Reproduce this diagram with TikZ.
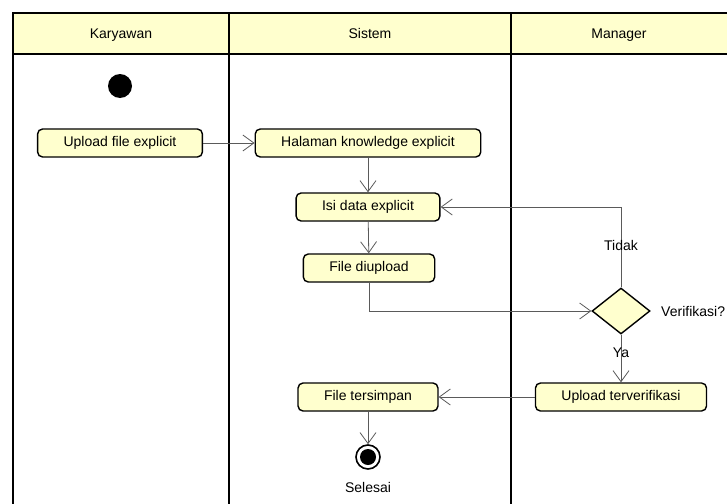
\documentclass[tikz,border=0pt]{standalone}
\usepackage{fontspec}
\setmainfont{Liberation Sans}
\usetikzlibrary{arrows.meta,shapes.geometric}
\definecolor{umlfill}{RGB}{255,255,206}
\definecolor{flowgray}{RGB}{90,90,90}
\tikzset{
  lane/.style={draw, line width=1.6pt},
  action/.style={draw, line width=1.4pt, rounded corners=5pt, fill=umlfill,
    minimum height=28pt, inner xsep=26pt, text height=10pt, text depth=3pt,
    font=\fontsize{14}{16}\selectfont},
  decision/.style={draw, line width=1.4pt, diamond, fill=umlfill,
    minimum width=58pt, minimum height=46pt, inner sep=0pt},
  flow/.style={draw=flowgray, line width=0.8pt, -{Straight Barb[length=11pt,width=16pt]}},
  txt/.style={font=\fontsize{14}{16}\selectfont}
}
\begin{document}
\begin{tikzpicture}[x=1pt, y=-1pt]
  \useasboundingbox (0,0) rectangle (727,503);
  \clip (0,0) rectangle (727,503);
  % swimlanes
  \fill[umlfill] (13,13) rectangle (740,54);
  \draw[lane] (740,13) -- (13,13) -- (13,510);
  \draw[lane] (13,54) -- (740,54);
  \draw[lane] (229,13) -- (229,510);
  \draw[lane] (511,13) -- (511,510);
  \node[txt, anchor=base] (karyawan) at (121,38) {Karyawan};
  \node[txt, anchor=base] (sistem) at (370,38) {Sistem};
  \node[txt, anchor=base] (manager) at (619,38) {Manager};
  % nodes
  \node[circle, fill=black, minimum size=24pt, inner sep=0pt] (start) at (120,86) {};
  \node[action] (upload) at (120,143) {Upload file explicit};
  \node[action] (halaman) at (368,143) {Halaman knowledge explicit};
  \node[action] (isidata) at (368,207) {Isi data explicit};
  \node[action] (diupload) at (369,268) {File diupload};
  \node[decision] (verif) at (621,311) {};
  \node[txt, anchor=west] (verifikasi) at ([xshift=7pt]verif.east) {Verifikasi?};
  \node[action] (terverif) at (621,397) {Upload terverifikasi};
  \node[action] (tersimpan) at (368,397) {File tersimpan};
  \node[circle, draw, line width=1.6pt, fill=white, minimum size=24pt, inner sep=0pt] (finish) at (368,457) {};
  \fill (finish) circle (8pt);
  \node[txt] (selesai) at (368,487) {Selesai};
  % flows
  \draw[flow] (upload) -- (halaman);
  \draw[flow] (halaman) -- (isidata);
  \draw[flow] (isidata) -- (diupload);
  \draw[flow] (diupload.south) |- (verif.west);
  \draw[flow] (verif.north) |- node[txt, pos=0.26] {Tidak} (isidata.east);
  \draw[flow] (verif.south) -- node[txt, pos=0.37] {Ya} (terverif.north);
  \draw[flow] (terverif) -- (tersimpan);
  \draw[flow] (tersimpan) -- (finish);
\end{tikzpicture}
\end{document}
